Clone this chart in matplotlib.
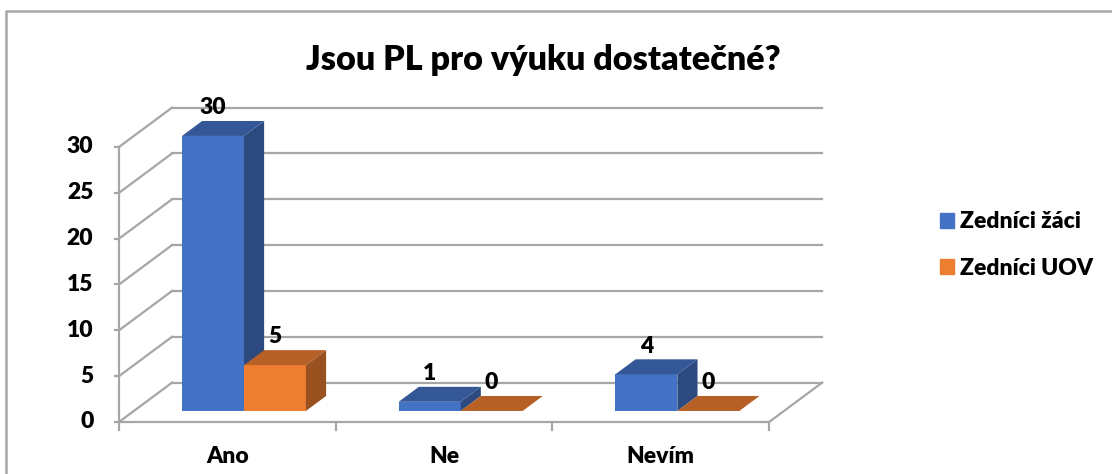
import matplotlib.pyplot as plt
from matplotlib.patches import Polygon, Patch
from matplotlib.lines import Line2D
import numpy as np

plt.rcParams['font.family'] = ['Lato', 'DejaVu Sans']

title = "Jsou PL pro výuku dostatečné?"
categories = ["Ano", "Ne", "Nevím"]
series_names = ["Zedníci žáci", "Zedníci UOV"]
zaci = [30, 1, 4]
uov = [5, 0, 0]
yticks = [0, 5, 10, 15, 20, 25, 30]

front_colors = ["#4472C4", "#ED7D31"]
top_colors = ["#345897", "#B66026"]
side_colors = ["#2C4A7F", "#9A5120"]
grid_col = "#a6a6a6"
W = 'heavy'
FS = 16.5

# fake 3d: depth offset of the floor in data units
DX, DY = 0.245, 4.3
D0, D1 = 0.28, 0.66      # bar front / back as depth fractions
BAR_W = 0.286
GAP = 0.222

fig = plt.figure(figsize=(11.12, 4.74), dpi=100)
ax = fig.add_axes([119 / 1112, 52 / 474, 3.3 * 216.7 / 1112, 36 * 9.167 / 474])
ax.set_xlim(0, 3.3)
ax.set_ylim(0, 36)
ax.axis('off')

n = len(categories)

# walls and grid
for v in yticks:
    ax.plot([DX, n + DX], [v + DY, v + DY], color=grid_col, lw=1.6, clip_on=False, zorder=1)
    ax.plot([0, DX], [v, v + DY], color=grid_col, lw=1.6, clip_on=False, zorder=1)
    ax.plot([-0.018, 0], [v, v], color=grid_col, lw=1.6, clip_on=False, zorder=1)
    ax.text(-0.118, v, str(v), ha='right', va='center', fontsize=FS, fontweight=W)
ax.plot([0, 0], [0, yticks[-1]], color=grid_col, lw=1.6, clip_on=False, zorder=1)
ax.plot([0, n], [0, 0], color=grid_col, lw=1.6, clip_on=False, zorder=1)
ax.plot([n, n + DX], [0, DY], color=grid_col, lw=1.6, clip_on=False, zorder=1)
for i in range(n + 1):
    ax.plot([i, i], [0, -0.9], color=grid_col, lw=1.6, clip_on=False, zorder=1)
for i, c in enumerate(categories):
    ax.text(i + 0.5, -3.8, c, ha='center', va='center', fontsize=FS, fontweight=W)

# bars
z = 2
for i in range(n):
    for s, vals in enumerate([zaci, uov]):
        v = vals[i]
        x0 = i + GAP + s * BAR_W + D0 * DX
        base = D0 * DY
        ddx = (D1 - D0) * DX
        ddy = (D1 - D0) * DY
        if v > 0:
            ax.bar(x0, v, bottom=base, width=BAR_W, align='edge', color=front_colors[s],
                   lw=0, zorder=z)
            side = [(x0 + BAR_W, base), (x0 + BAR_W + ddx, base + ddy),
                    (x0 + BAR_W + ddx, base + ddy + v), (x0 + BAR_W, base + v)]
            ax.add_patch(Polygon(side, closed=True, color=side_colors[s], lw=0, zorder=z))
        top = [(x0, base + v), (x0 + BAR_W, base + v),
               (x0 + BAR_W + ddx, base + v + ddy), (x0 + ddx, base + v + ddy)]
        ax.add_patch(Polygon(top, closed=True, color=top_colors[s], lw=0, zorder=z))
        ax.text(x0 + BAR_W / 2, base + v + ddy + 1.45, str(v), ha='center', va='center',
                fontsize=FS, fontweight=W, zorder=10)
        z += 1

fig.suptitle(title, x=543 / 1112, y=1 - 60 / 474, va='center', fontsize=24.6, fontweight=W)

handles = [Patch(color=front_colors[0]), Patch(color=front_colors[1])]
fig.legend(handles, series_names, loc='center left', bbox_to_anchor=(919 / 1112, 0.483),
           frameon=False, prop={'weight': W, 'size': 16.5},
           handlelength=0.62, handleheight=0.62, handletextpad=0.28, labelspacing=1.1)

# outer frame
fig.add_artist(Line2D([5.5 / 1112, 5.5 / 1112, 1], [0, 1 - 10.5 / 474, 1 - 10.5 / 474],
                      color=grid_col, lw=1.8))

fig.savefig('out.png', dpi=100)
